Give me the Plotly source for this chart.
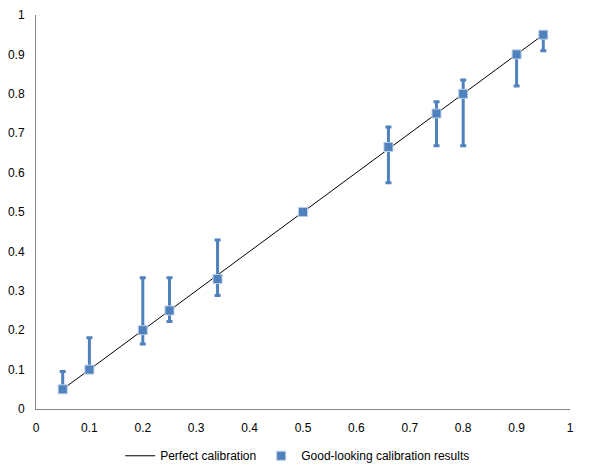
import plotly.graph_objs as go

# perfect calibration line
line_x = [0.05, 0.95]
line_y = [0.05, 0.95]

# calibration results with asymmetric error bars
pred = [0.05, 0.1, 0.2, 0.25, 0.34, 0.5, 0.66, 0.75, 0.8, 0.9, 0.95]
obs = [0.05, 0.1, 0.2, 0.25, 0.33, 0.5, 0.665, 0.75, 0.8, 0.9, 0.95]
upper = [0.095, 0.181, 0.333, 0.333, 0.429, 0.5, 0.716, 0.78, 0.835, 0.9, 0.95]
lower = [0.05, 0.1, 0.165, 0.222, 0.288, 0.5, 0.574, 0.668, 0.668, 0.82, 0.909]

err_plus = [u - o for u, o in zip(upper, obs)]
err_minus = [o - l for o, l in zip(obs, lower)]

ticks = [0, 0.1, 0.2, 0.3, 0.4, 0.5, 0.6, 0.7, 0.8, 0.9, 1]
tick_text = ['0', '0.1', '0.2', '0.3', '0.4', '0.5', '0.6', '0.7', '0.8', '0.9', '1']

traces = [
    go.Scatter(x=line_x, y=line_y, mode='lines', name='Perfect calibration',
               line=dict(color='black', width=1)),
    go.Scatter(x=pred, y=obs, mode='markers', name='Good-looking calibration results',
               marker=dict(symbol='square', size=9, color='#4f81bd',
                           line=dict(color='#b9cde5', width=1)),
               error_y=dict(type='data', symmetric=False, array=err_plus,
                            arrayminus=err_minus, color='#4f81bd',
                            thickness=3, width=3)),
]

axis_style = dict(range=[0, 1], tickvals=ticks, ticktext=tick_text, showgrid=False,
                  zeroline=False, showline=True, linecolor='#868686', linewidth=1,
                  ticks='', automargin=False,
                  tickfont=dict(family='Liberation Sans', size=12, color='black'))

layout = go.Layout(
    width=589, height=475,
    margin=dict(l=36, r=19, t=15, b=66),
    paper_bgcolor='white', plot_bgcolor='white',
    xaxis=dict(axis_style, ticklabelstandoff=8),
    yaxis=dict(axis_style, ticklabelstandoff=8),
    showlegend=True,
    legend=dict(orientation='h', x=0.49, xanchor='center', yref='container',
                y=0.071, yanchor='top',
                font=dict(family='Liberation Sans', size=12, color='black')),
)

fig = go.Figure(data=traces, layout=layout)
# drop the browser's default page margin so the chart sits at the window origin
fig.write_html("out.html", config={'displayModeBar': False},
               post_script="document.body.style.margin='0';")
